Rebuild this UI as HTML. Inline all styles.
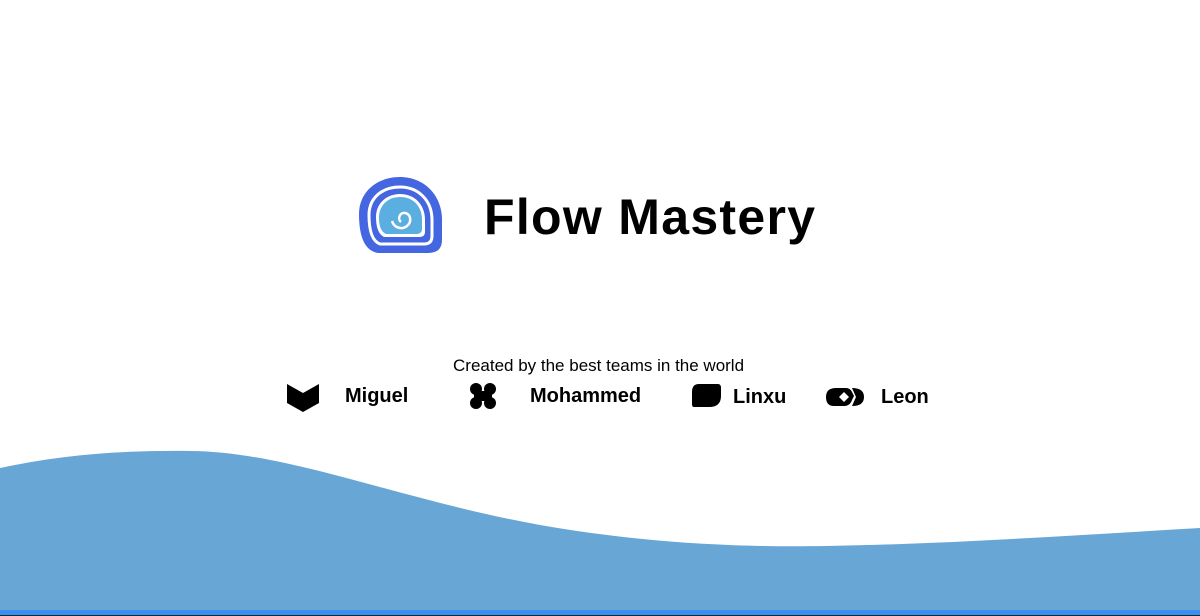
<!DOCTYPE html>
<html><head><meta charset="utf-8"><style>
html,body{margin:0;padding:0;background:#fff;}
body{width:1200px;height:616px;position:relative;overflow:hidden;font-family:"Liberation Sans",sans-serif;}
.t{position:absolute;white-space:nowrap;color:#000;}
</style></head><body>
<svg width="1200" height="616" style="position:absolute;left:0;top:0">
  <path d="M0,468 C60,455 120,450 191,451 C290,452 400,500 540,525 C660,546 760,547 826,546 C950,544 1080,535 1200,528 L1200,616 L0,616 Z" fill="#68a6d6"/>
  <rect x="0" y="610" width="1200" height="5" fill="#3b8ff0"/>
  <rect x="0" y="615" width="1200" height="1" fill="#222"/>
  <path d="M359,214 C359,192 377,177 400,177 C424,177 442,195 442,220 L442,240 Q442,253 428,253 L378,253 Q359,250 359,214 Z" fill="#4466e0"/>
  <path d="M369,215 C369,198 382,187 400,187 C418,187 432,200 432,220 L432,236 Q432,244 424,244 L380,244 Q369,240 369,215 Z" fill="none" stroke="#fff" stroke-width="3"/>
  <path d="M376,217 C376,203 387,194 400,194 C414,194 425,204 425,220 L425,232 Q425,237 419,237 L384,237 Q376,233 376,217 Z" fill="#fff"/>
  <path d="M379,218 C379,205 388,197 400,197 C413,197 422,206 422,220 L422,229 Q422,234 416,234 L386,234 Q379,231 379,218 Z" fill="#5aaee0"/>
  <path d="M401,222 C397,219 400,212 405,213 C411,214 412,222 407,226 C402,230 394,228 392,221" fill="none" stroke="#fff" stroke-width="2.5"/>
  <path d="M287,384 L303,393 L319,384 L319,403 L303,412 L287,403 Z" fill="#000"/>
  <g fill="#000"><circle cx="476" cy="389" r="6"/><circle cx="490" cy="389" r="6"/><circle cx="476" cy="403" r="6"/><circle cx="490" cy="403" r="6"/><rect x="474" y="391" width="18" height="10"/></g>
  <path d="M699,384 L718,384 Q721,384 721,388 L721,396 Q721,407 709,407 L694,407 Q692,407 692,404 L692,392 Q692,384 699,384 Z" fill="#000"/>
  <path d="M836,388 L846,388 Q850,388 852,392 L854,396 L852,400 Q850,406 844,406 L834,406 Q826,406 826,397 Q826,388 836,388 Z" fill="#000"/>
  <path d="M844,392 L849,397 L844,402 L839,397 Z" fill="#fff"/>
  <path d="M852,388 Q864,388 864,397 Q864,406 852,406 L856,397 Z" fill="#000"/>
</svg>
<div class="t" style="left:484px;top:188px;font-size:50px;font-weight:bold;letter-spacing:1.3px">Flow Mastery</div>
<div class="t" style="left:453px;top:356px;font-size:17px;">Created by the best teams in the world</div>
<div class="t" style="left:345px;top:385px;font-size:20px;font-weight:bold">Miguel</div>
<div class="t" style="left:530px;top:385px;font-size:20px;font-weight:bold">Mohammed</div>
<div class="t" style="left:733px;top:386px;font-size:20px;font-weight:bold">Linxu</div>
<div class="t" style="left:881px;top:386px;font-size:20px;font-weight:bold">Leon</div>
</body></html>
